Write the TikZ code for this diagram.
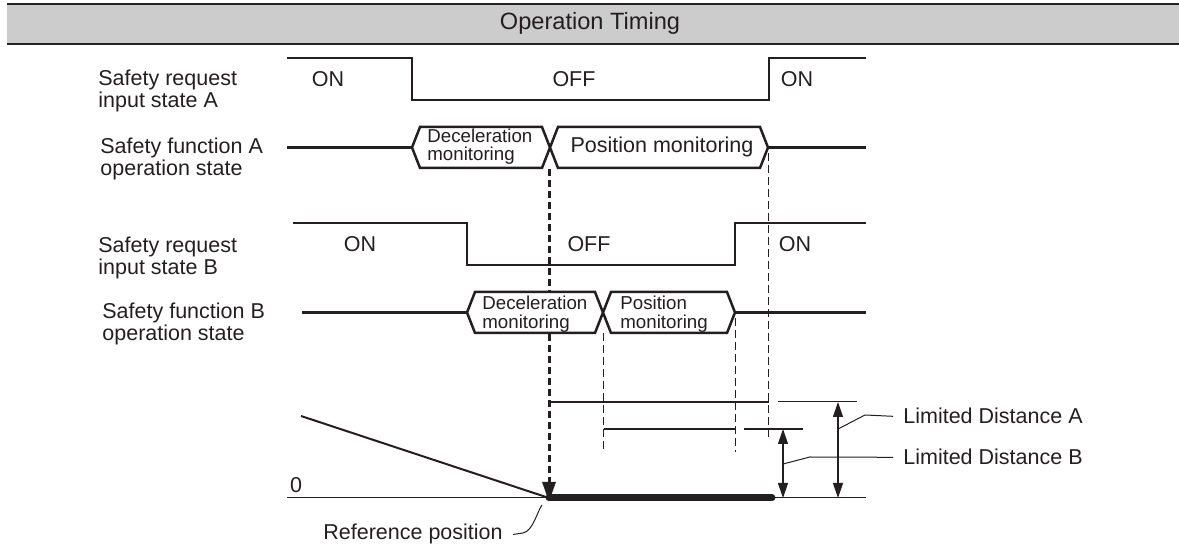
\documentclass[tikz,border=0pt]{standalone}
\usepackage{fontspec}
\setmainfont{Liberation Sans}
\usetikzlibrary{arrows.meta}
\definecolor{hdrgray}{HTML}{CCCCCC}
\definecolor{ink}{HTML}{231F20}
% hexagonal state box: left point, right point, middle y
\newcommand{\monbox}[3]{%
  \draw[wave, fill=white] (#1,#3) -- ({#1+8},{#3-20.5}) -- ({#2-8},{#3-20.5}) -- (#2,#3)
    -- ({#2-8},{#3+20.5}) -- ({#1+8},{#3+20.5}) -- cycle;}

\begin{document}
\begin{tikzpicture}[
    x=0.5pt, y=-0.5pt,
    every node/.style={text=ink, inner sep=0pt},
    rowlabel/.style={anchor=north west, align=left, font=\fontsize{10.75}{11}\selectfont},
    statelabel/.style={anchor=base, font=\fontsize{10.75}{11}\selectfont},
    monlabel/.style={anchor=north west, align=left, font=\fontsize{9.35}{9.1}\selectfont},
    wave/.style={draw=ink, line width=1.25pt, line join=miter},
    guide/.style={draw=ink, line width=0.5pt, dash pattern=on 4pt off 2pt},
    refguide/.style={draw=ink, line width=1.5pt, dash pattern=on 3.5pt off 2pt,
      -{Triangle[length=10pt,width=6.5pt]}},
    dimline/.style={draw=ink, line width=0.6pt,
      {Triangle[length=7.5pt,width=5pt]}-{Triangle[length=7.5pt,width=5pt]}},
    leader/.style={draw=ink, line width=0.5pt}
  ]
  \useasboundingbox (0,0) rectangle (1179,560);

  % header
  \fill[hdrgray] (7,3.7) rectangle (1179,43.7);
  \draw[ink, line width=1pt] (7,3.7) -- (1179,3.7) (7,43.7) -- (1179,43.7);
  \node[statelabel, anchor=center, font=\fontsize{11.8}{12}\selectfont] (title) at (590,23) {Operation Timing};

  % position chart points
  \coordinate (refpt) at (549,498);
  \coordinate (endpt) at (772,498);
  \coordinate (limA) at (838,402);
  \coordinate (limB) at (783,429);
  \coordinate (zeroA) at (838,498);
  \coordinate (zeroB) at (783,498);

  % guides (under the boxes)
  \draw[guide] (768,153) -- (768,440);
  \draw[guide] (603,333) -- (603,452);
  \draw[guide] (735,318) -- (735,452);
  \draw[refguide] (549,169) -- ([yshift=-2pt]refpt);

  % row labels
  \node[rowlabel] (reqA) at (98,69.4) {Safety request\\input state A};
  \node[rowlabel] (funA) at (100,137.4) {Safety function A\\operation state};
  \node[rowlabel] (reqB) at (98,236.4) {Safety request\\input state B};
  \node[rowlabel] (funB) at (102,302.4) {Safety function B\\operation state};

  % request A
  \draw[wave] (287,58) -- (412,58) -- (412,100) -- (769,100) -- (769,58) -- (866,58);
  \node[statelabel] (onA1) at (328,86.5) {ON};
  \node[statelabel] (offA) at (574,86.5) {OFF};
  \node[statelabel] (onA2) at (797,86.5) {ON};

  % function A
  \draw[wave] (287,147.5) -- (412,147.5) (768,147.5) -- (866,147.5);
  \monbox{412}{550}{147.5}
  \monbox{550}{768}{147.5}
  \node[monlabel] (decA) at (427,128.6) {Deceleration\\monitoring};
  \node[statelabel] (posA) at (662,152.5) {Position monitoring};

  % request B
  \draw[wave] (293,223) -- (467,223) -- (467,265) -- (735,265) -- (735,223) -- (866,223);
  \node[statelabel] (onB1) at (360,252) {ON};
  \node[statelabel] (offB) at (589,252) {OFF};
  \node[statelabel] (onB2) at (795,252) {ON};

  % function B
  \draw[wave] (302,312.5) -- (467,312.5) (735,312.5) -- (866,312.5);
  \monbox{467}{603}{312.5}
  \monbox{603}{735}{312.5}
  \node[monlabel] (decB) at (482,296) {Deceleration\\monitoring};
  \node[monlabel] (posB) at (620,296) {Position\\monitoring};

  % distances
  \draw[ink, line width=0.8pt] (549,402) -- (769,402);
  \draw[ink, line width=0.5pt] (778,402) -- (857,402);
  \draw[ink, line width=0.8pt] (604,429) -- (735,429);
  \draw[ink, line width=0.9pt] (744,429) -- (803,429);

  \draw[ink, line width=0.5pt] (287,498) -- (866,498);
  \node[statelabel] (zero) at (296,493) {0};
  \draw[ink, line width=1pt] (301,416) -- (refpt);
  \draw[ink, line width=3.5pt, line cap=round] (refpt) -- (endpt);

  \draw[dimline] (limB) -- (zeroB);
  \draw[dimline] (limA) -- (zeroA);

  \node[statelabel, anchor=base west] (distA) at (903,424) {Limited Distance A};
  \node[statelabel, anchor=base west] (distB) at (903,465) {Limited Distance B};
  \draw[leader] (838,429) -- (865,415) -- ([xshift=-5pt]distA.west);
  \draw[leader] (783,464) -- (810,457) -- ([xshift=-5pt]distB.west);

  \node[statelabel, anchor=base west] (reftxt) at (323,540) {Reference position};
  \draw[leader] ([xshift=5pt]reftxt.east) -- (523,533)
    .. controls (533,531) and (537,512) .. (542,505);
\end{tikzpicture}
\end{document}
